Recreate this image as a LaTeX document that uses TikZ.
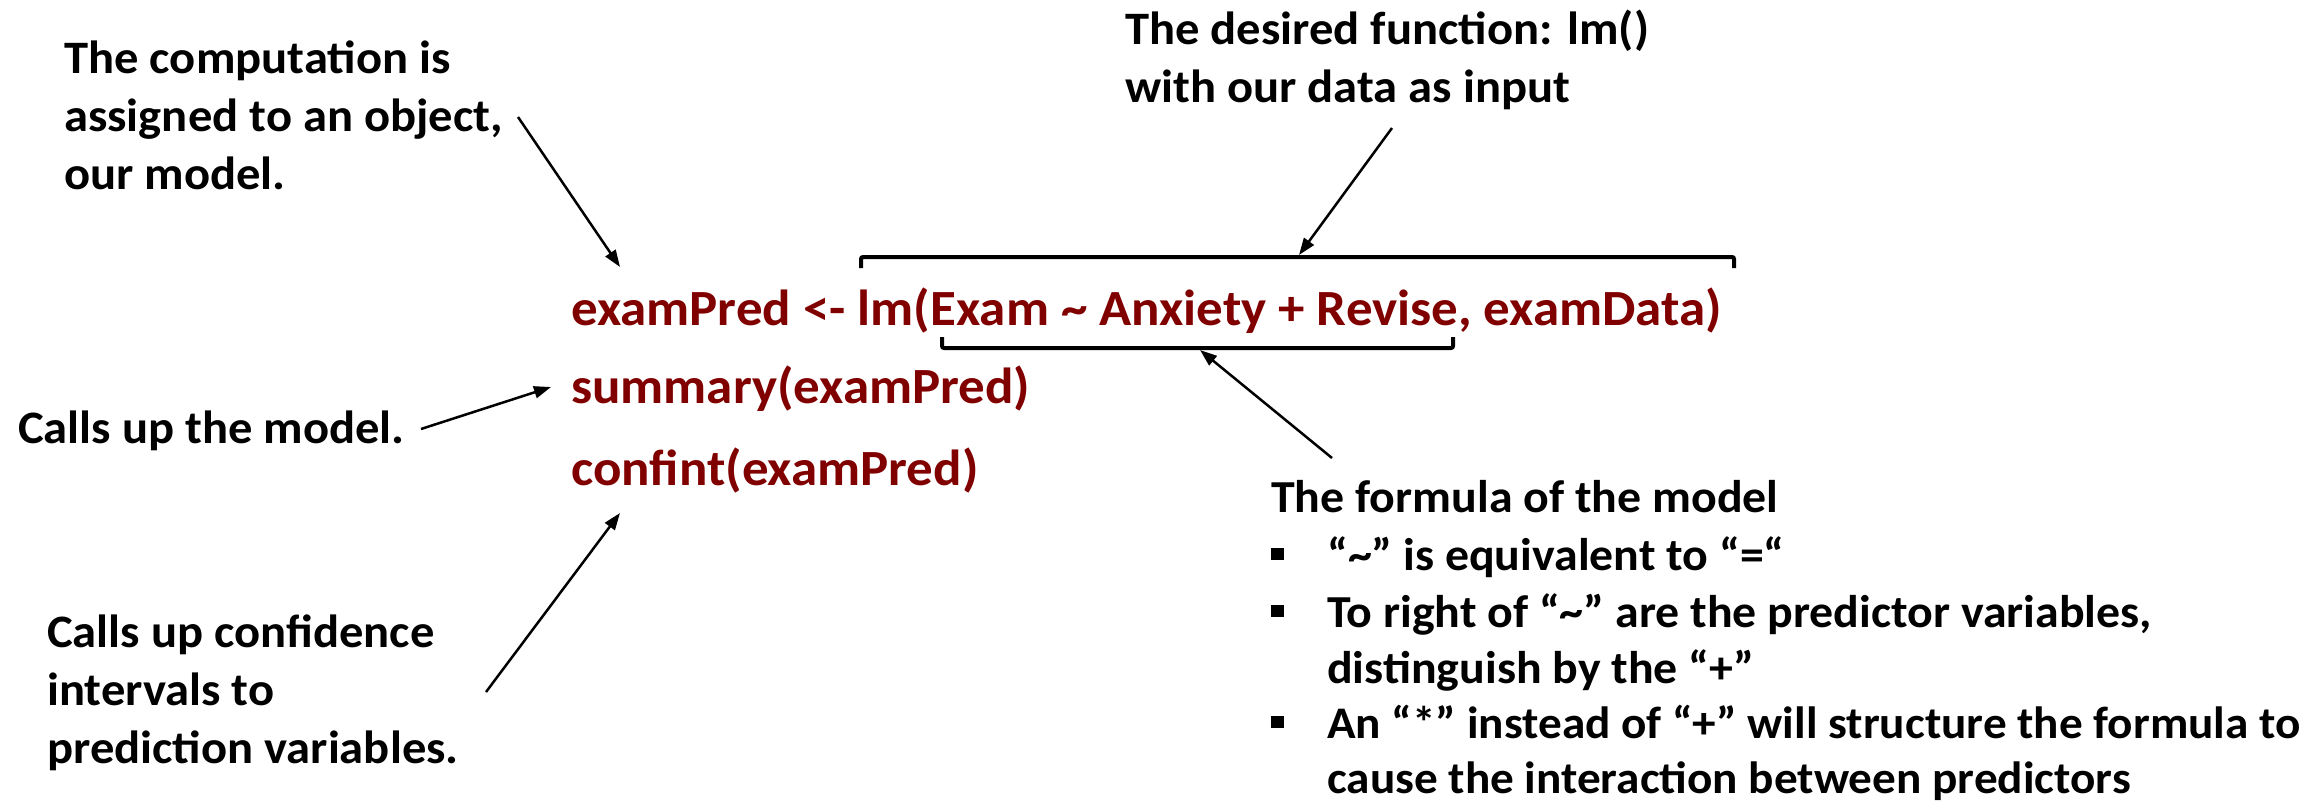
\documentclass[tikz,border=0pt]{standalone}
\usepackage{fontspec}
\setmainfont{Carlito}[FakeStretch=1.045]
\usetikzlibrary{arrows.meta}
\definecolor{codered}{RGB}{128,0,0}
\tikzset{
  note/.style={anchor=base west, align=left, inner sep=0pt, font=\fontsize{46.5}{58}\selectfont\bfseries},
  listnote/.style={note, font=\fontsize{45.8}{56}\selectfont\bfseries},
  code/.style={anchor=base west, inner sep=0pt, text=codered, font=\fontsize{50.7}{60}\selectfont\bfseries},
  pointer/.style={line width=2.5pt, -{Triangle[length=17pt,width=12pt]}},
  bracket/.style={line width=4pt, rounded corners=2pt},
  bulletsq/.style={fill=black, draw=none}
}
\begin{document}
\begin{tikzpicture}[x=1pt,y=-1pt]
\useasboundingbox (0,0) rectangle (2321,805);
% annotations (anchor = baseline of the last line)
\node[note] (assign) at (64,190) {The computation is\\assigned to an object,\\our model.};
\node[note] (desired) at (1125,103) {The desired function: lm()\\with our data as input};
\node[note] (callsum) at (18,443) {Calls up the model.};
\node[note] (callconf) at (47,763) {Calls up confidence\\intervals to\\prediction variables.};
% code
\node[code] (line1) at (571,325) {examPred <- lm(Exam \textasciitilde{} Anxiety + Revise, examData)};
\node[code] (line2) at (571,403) {summary(examPred)};
\node[code] (line3) at (571,485) {confint(examPred)};
% formula block
\node[listnote] (formula) at (1271,512) {The formula of the model};
\node[listnote] (item1) at (1327,570) {“\textasciitilde” is equivalent to “=“};
\node[listnote] (item2) at (1327,683) {To right of “\textasciitilde” are the predictor variables,\\distinguish by the “+”};
\node[listnote, font=\fontsize{45.2}{55}\selectfont\bfseries] (item3) at (1327,793) {An “*” instead of “+” will structure the formula to\\cause the interaction between predictors};
\fill[bulletsq] (1271,548) rectangle (1284,560);
\fill[bulletsq] (1271,605) rectangle (1284,617);
\fill[bulletsq] (1271,716) rectangle (1284,728);
% brackets
\draw[bracket] (861,268) -- (861,257) -- (1734,257) -- (1734,268);
\draw[bracket] (942,337) -- (942,348) -- (1453,348) -- (1453,337);
\coordinate (topmid) at (1299,255);
\coordinate (lowmid) at (1200,350);
% arrow ends
\coordinate (a1s) at (518,117);
\coordinate (a1e) at (620,267);
\coordinate (a2s) at (1392,128);
\coordinate (a3s) at (1332,458);
\coordinate (a4s) at (421,429);
\coordinate (a4e) at (551,387);
\coordinate (a5s) at (486,692);
\coordinate (a5e) at (620,513);
\draw[pointer] (a1s) -- (a1e);
\draw[pointer] (a2s) -- (topmid);
\draw[pointer] (a3s) -- (lowmid);
\draw[pointer] (a4s) -- (a4e);
\draw[pointer] (a5s) -- (a5e);
\end{tikzpicture}
\end{document}
